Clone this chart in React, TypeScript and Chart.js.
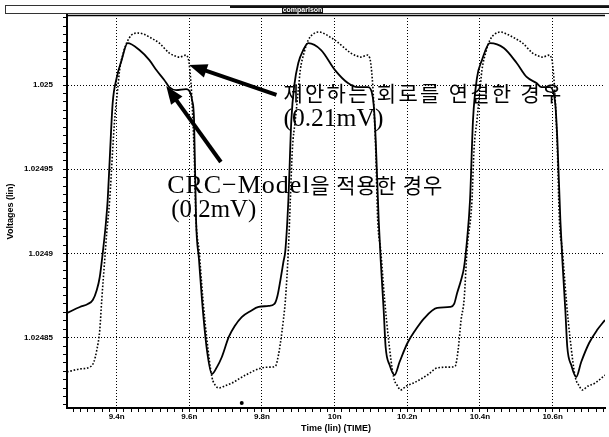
import React, { useEffect, useRef } from 'react';
import { Chart, registerables } from 'chart.js';

Chart.register(...registerables);

// ---------- axis ticks ----------
const xMajorTicks = [9.4, 9.6, 9.8, 10, 10.2, 10.4, 10.6];
const xTickLabels = ['9.4n', '9.6n', '9.8n', '10n', '10.2n', '10.4n', '10.6n'];
const yMajorTicks = [1.02485, 1.0249, 1.02495, 1.025];
const yTickLabels = ['1.02485', '1.0249', '1.02495', '1.025'];
const xRange = [9.2634, 10.7442];
const yRange = [1.0248082, 1.0250416];
const xMinorStep = 0.02;
const yMinorStep = 0.000005;

// ---------- series: CRC-Model (solid) ----------
const crcTime = [
  9.2634, 9.2989, 9.3208, 9.3344, 9.3454, 9.3536, 9.3617, 9.3699, 9.3754, 9.3809, 9.3891, 9.4, 9.4137, 9.4301,
  9.4628, 9.4902, 9.5093, 9.5311, 9.5448, 9.5639, 9.5913, 9.6022, 9.6077, 9.6131, 9.6186, 9.6268, 9.635, 9.6486, 9.6623,
  9.676, 9.6896, 9.7087, 9.7251, 9.7443, 9.7688, 9.7907, 9.818, 9.8344, 9.8426, 9.8508, 9.859, 9.8645, 9.8727,
  9.8809, 9.8891, 9.9, 9.9137, 9.9273, 9.9628, 10.0011, 10.0366, 10.0639, 10.0912, 10.1022, 10.1076, 10.1131, 10.1213,
  10.1268, 10.135, 10.1404, 10.1514, 10.165, 10.1787, 10.2005, 10.2224, 10.247, 10.2825, 10.318, 10.329, 10.3372,
  10.3481, 10.3563, 10.3645, 10.3727,
  10.3809, 10.3918, 10.4055, 10.4273, 10.4656, 10.5011, 10.5284, 10.5557, 10.5694, 10.5913, 10.6022, 10.6077, 10.6131,
  10.6213, 10.6268, 10.635, 10.6404, 10.6514, 10.665, 10.6787, 10.7005, 10.7224, 10.7442,
];
const crcVolt = [
  1.0248646, 1.0248682, 1.02487, 1.0248723, 1.0248783, 1.024886, 1.0249002, 1.0249169, 1.0249317, 1.0249555, 1.0249893,
  1.0250042, 1.0250148, 1.0250249,
  1.0250208, 1.0250148, 1.0250089, 1.025003, 1.0249988, 1.024997, 1.0249976, 1.0249958, 1.0249911, 1.0249792, 1.0249198,
  1.0248961, 1.0248723, 1.0248426, 1.0248284,
  1.0248325, 1.0248385, 1.0248504, 1.0248569, 1.0248622, 1.0248658, 1.0248682, 1.0248688, 1.02487, 1.0248747, 1.0248842,
  1.0248949, 1.024902, 1.0249317,
  1.0249792, 1.025, 1.0250131, 1.0250208, 1.0250249, 1.0250208, 1.0250089, 1.0250012, 1.0249988, 1.0249988, 1.0249958,
  1.0249881, 1.0249673, 1.0249198, 1.0248961, 1.0248664, 1.0248444, 1.0248337, 1.0248278, 1.0248355, 1.0248468,
  1.0248545, 1.0248616, 1.0248676, 1.0248682, 1.02487, 1.0248765, 1.0248842, 1.0248919, 1.024908, 1.0249317,
  1.0249792, 1.0250042, 1.0250148, 1.0250249, 1.025022, 1.0250131, 1.0250048, 1.0250012, 1.0249988, 1.0249988, 1.0249958,
  1.0249881, 1.0249673, 1.0249198, 1.0248961, 1.0248664, 1.0248444, 1.0248337, 1.0248266, 1.0248355, 1.0248468,
  1.0248545, 1.0248605,
];

// ---------- series: proposed circuit (dotted) ----------
const propTime = [
  9.2634, 9.2989, 9.3262, 9.3372, 9.3454, 9.3536, 9.359, 9.3672, 9.3727, 9.3809, 9.3891, 9.3945, 9.4027, 9.4082, 9.4191,
  9.4273, 9.441, 9.4574, 9.4738, 9.4902, 9.5175, 9.5448, 9.5612, 9.5721, 9.5913, 9.5967, 9.5995, 9.6049, 9.6077, 9.6131,
  9.6186, 9.6268, 9.6377, 9.6486, 9.6623, 9.6732, 9.6814, 9.6978, 9.7169, 9.7552, 9.7989, 9.8235, 9.8372, 9.8454, 9.8508,
  9.859, 9.8645, 9.8727, 9.8781,
  9.8836, 9.8918, 9.9, 9.9055, 9.9164, 9.9273, 9.941, 9.9574, 9.9738, 9.9874, 10.0011, 10.0448, 10.0612, 10.0721,
  10.0912, 10.0967, 10.0994, 10.1049, 10.1076, 10.1131, 10.1186, 10.1268, 10.1377, 10.1486, 10.1623, 10.1732, 10.1814,
  10.1978, 10.2169, 10.2552, 10.2825, 10.318, 10.3317, 10.3399, 10.3481, 10.3563, 10.3645, 10.3781,
  10.3836, 10.3918, 10.4, 10.4055, 10.4164, 10.4273, 10.441, 10.4574, 10.4738, 10.4902, 10.5175, 10.5448, 10.5612,
  10.5721, 10.5913, 10.5967, 10.5995, 10.6049, 10.6077, 10.6131, 10.6186, 10.6268, 10.6377, 10.6486, 10.6623, 10.6732,
  10.6814, 10.6978, 10.7169, 10.7442,
];
const propVolt = [
  1.0248296, 1.0248314, 1.0248325, 1.0248355, 1.0248426, 1.0248545, 1.0248723, 1.0248961, 1.0249121, 1.0249317,
  1.0249614, 1.0249792, 1.024997, 1.0250089, 1.0250196, 1.0250249, 1.0250297, 1.0250309, 1.0250303, 1.0250285,
  1.0250249, 1.025019, 1.0250172, 1.0250166, 1.0250178, 1.025016, 1.0250131, 1.025, 1.0249893, 1.0249614, 1.0249198,
  1.024902, 1.0248723, 1.0248486, 1.0248266, 1.0248213, 1.0248201, 1.0248213, 1.024823, 1.0248278, 1.024832, 1.0248325,
  1.0248331, 1.0248397, 1.0248468, 1.0248605, 1.0248723, 1.024902, 1.0249317,
  1.0249614, 1.0249792, 1.024997, 1.0250089, 1.0250196, 1.0250267, 1.0250303, 1.0250315, 1.0250303, 1.0250285,
  1.0250267, 1.025019, 1.0250172, 1.0250166, 1.0250178, 1.025016, 1.0250131, 1.025, 1.0249893, 1.0249614, 1.0249198,
  1.024902, 1.0248723, 1.0248486, 1.0248266, 1.0248213, 1.0248189, 1.0248213, 1.024823, 1.0248278, 1.024832, 1.0248325,
  1.0248331, 1.0248426, 1.0248605, 1.0248723, 1.024902, 1.0249317,
  1.0249614, 1.0249792, 1.024997, 1.0250089, 1.0250196, 1.0250267, 1.0250303, 1.0250315, 1.0250303, 1.0250285,
  1.0250249, 1.025019, 1.0250172, 1.0250166, 1.0250178, 1.025016, 1.0250131, 1.025, 1.0249893, 1.0249614, 1.0249198,
  1.024902, 1.0248723, 1.0248486, 1.0248266, 1.0248213, 1.0248189, 1.0248213, 1.024823, 1.0248278,
];

// small scan speck near the bottom
const speckTime = [9.7443];
const speckVolt = [1.0248112];

// ---------- annotations (data coordinates: left edge, text baseline) ----------
const annotationTexts = ['제안하는 회로를 연결한 경우', '(0.21mV)', 'CRC\u2212Model을 적용한 경우', '(0.2mV)'];
const annotationTime = [9.859, 9.859, 9.5393, 9.5503];
const annotationVolt = [1.0249905, 1.0249757, 1.0249359, 1.0249216];
const annotationWidthPx = [278, 100, 275, 85];

const arrowTailTime = [9.8399, 9.6869];
const arrowTailVolt = [1.0249941, 1.0249543];
const arrowTipTime = [9.5995, 9.5366];
const arrowTipVolt = [1.0250119, 1.0249994];

const tickFont = { family: "'Liberation Sans', Arial, sans-serif", size: 8, weight: 'bold' as const };
const titleFont = { family: "'Liberation Sans', Arial, sans-serif", size: 9, weight: 'bold' as const };
const latinNoteFont = "26px 'Liberation Serif', 'DejaVu Serif', serif";
const koreanNoteFont = "21px 'Noto Sans CJK KR', sans-serif";

function buildTicks(min: number, max: number, step: number) {
  const out: { value: number }[] = [];
  const start = Math.ceil(min / step - 1e-6);
  const end = Math.floor(max / step + 1e-6);
  for (let i = start; i <= end; i++) out.push({ value: +(i * step).toFixed(8) });
  return out;
}

function majorIndex(v: number, majors: number[], step: number) {
  return majors.findIndex((m) => Math.abs(m - v) < step * 0.05);
}

function drawArrow(ctx: CanvasRenderingContext2D, x1: number, y1: number, x2: number, y2: number) {
  const ang = Math.atan2(y2 - y1, x2 - x1);
  const headLen = 18;
  const headW = 7;
  const bx = x2 - headLen * Math.cos(ang);
  const by = y2 - headLen * Math.sin(ang);
  ctx.lineWidth = 4;
  ctx.lineCap = 'butt';
  ctx.beginPath();
  ctx.moveTo(x1, y1);
  ctx.lineTo(bx + 2 * Math.cos(ang), by + 2 * Math.sin(ang));
  ctx.stroke();
  ctx.beginPath();
  ctx.moveTo(x2, y2);
  ctx.lineTo(bx + headW * Math.sin(ang), by - headW * Math.cos(ang));
  ctx.lineTo(bx - headW * Math.sin(ang), by + headW * Math.cos(ang));
  ctx.closePath();
  ctx.fill();
}

function drawRuns(ctx: CanvasRenderingContext2D, text: string, left: number, baseline: number, width: number) {
  const c = ctx as any;
  const chars = Array.from(text);
  const runs: { font: string; text: string; w: number; n: number }[] = [];
  for (const ch of chars) {
    const kor = /[\u1100-\u11FF\u3130-\u318F\uAC00-\uD7A3 ]/.test(ch);
    const font = kor ? koreanNoteFont : latinNoteFont;
    const last = runs[runs.length - 1];
    if (last && last.font === font) last.text += ch;
    else runs.push({ font, text: ch, w: 0, n: 0 });
  }
  c.letterSpacing = '0px';
  let W = 0;
  for (const r of runs) {
    ctx.font = r.font;
    r.w = ctx.measureText(r.text).width;
    r.n = Array.from(r.text).length;
    W += r.w;
  }
  let ls = 0;
  let sx = 1;
  if (W < width && chars.length > 1) ls = (width - W) / (chars.length - 1);
  else sx = width / W;
  ctx.save();
  ctx.translate(left, baseline);
  ctx.scale(sx, 1);
  ctx.textBaseline = 'alphabetic';
  ctx.textAlign = 'left';
  let x = 0;
  for (const r of runs) {
    ctx.font = r.font;
    c.letterSpacing = ls + 'px';
    ctx.fillText(r.text, x, 0);
    x += r.w + r.n * ls;
  }
  c.letterSpacing = '0px';
  ctx.restore();
}

const overlayPlugin = {
  id: 'overlay',
  afterDatasetsDraw(chart: any) {
    const { ctx, chartArea, scales } = chart;
    const x = scales.x;
    const y = scales.y;
    ctx.save();
    // plot frame top
    ctx.strokeStyle = '#000';
    ctx.lineWidth = 1.5;
    ctx.beginPath();
    ctx.moveTo(chartArea.left, chartArea.top + 0.5);
    ctx.lineTo(chartArea.right, chartArea.top + 0.5);
    ctx.stroke();
    // arrows
    ctx.fillStyle = '#000';
    ctx.strokeStyle = '#000';
    for (let i = 0; i < arrowTailTime.length; i++) {
      drawArrow(
        ctx,
        x.getPixelForValue(arrowTailTime[i]),
        y.getPixelForValue(arrowTailVolt[i]),
        x.getPixelForValue(arrowTipTime[i]),
        y.getPixelForValue(arrowTipVolt[i])
      );
    }
    // texts
    for (let i = 0; i < annotationTexts.length; i++) {
      drawRuns(
        ctx,
        annotationTexts[i],
        x.getPixelForValue(annotationTime[i]),
        y.getPixelForValue(annotationVolt[i]),
        annotationWidthPx[i]
      );
    }
    ctx.restore();
  },
  afterDraw(chart: any) {
    const { ctx, width } = chart;
    ctx.save();
    // window title bar
    ctx.strokeStyle = '#333';
    ctx.lineWidth = 1;
    ctx.strokeRect(5.5, 5.5, width, 8);
    ctx.lineWidth = 2;
    ctx.strokeStyle = '#111';
    ctx.beginPath();
    ctx.moveTo(230, 7);
    ctx.lineTo(282, 7);
    ctx.moveTo(323, 7);
    ctx.lineTo(width, 7);
    ctx.stroke();
    ctx.fillStyle = '#111';
    ctx.fillRect(282, 6, 41, 8);
    ctx.fillStyle = '#fff';
    ctx.font = "bold 7px 'Liberation Sans', Arial, sans-serif";
    ctx.textAlign = 'center';
    ctx.textBaseline = 'middle';
    ctx.fillText('comparison', 302.5, 10.5);
    ctx.restore();
  },
};

export default function App() {
  const canvasRef = useRef<HTMLCanvasElement | null>(null);

  useEffect(() => {
    if (!canvasRef.current) return;
    const chart = new Chart(canvasRef.current, {
      type: 'line',
      data: {
        datasets: [
          {
            label: 'CRC-Model',
            data: crcTime.map((t, i) => ({ x: t, y: crcVolt[i] })),
            borderColor: '#000',
            borderWidth: 1.8,
            pointRadius: 0,
            cubicInterpolationMode: 'monotone',
            fill: false,
          },
          {
            label: 'proposed',
            data: propTime.map((t, i) => ({ x: t, y: propVolt[i] })),
            borderColor: '#000',
            borderWidth: 1.6,
            borderDash: [1.6, 1.8],
            pointRadius: 0,
            cubicInterpolationMode: 'monotone',
            fill: false,
          },
          {
            label: 'speck',
            data: speckTime.map((t, i) => ({ x: t, y: speckVolt[i] })),
            showLine: false,
            pointRadius: 2,
            pointBackgroundColor: '#000',
            pointBorderWidth: 0,
          },
        ],
      },
      options: {
        animation: false,
        responsive: false,
        devicePixelRatio: 1,
        events: [],
        layout: { padding: { top: 15, left: 0, right: 0, bottom: 0 } },
        plugins: { legend: { display: false }, tooltip: { enabled: false }, title: { display: false } },
        scales: {
          x: {
            type: 'linear',
            min: xRange[0],
            max: xRange[1],
            afterBuildTicks: (scale: any) => {
              scale.ticks = buildTicks(xRange[0], xRange[1], xMinorStep);
            },
            afterFit: (scale: any) => {
              scale.height = 29;
            },
            ticks: {
              autoSkip: false,
              maxRotation: 0,
              minRotation: 0,
              padding: 0,
              color: '#000',
              font: tickFont,
              callback: (v: any) => {
                const i = majorIndex(Number(v), xMajorTicks, xMinorStep);
                return i >= 0 ? xTickLabels[i] : '';
              },
            },
            grid: {
              color: (c: any) =>
                c.tick && majorIndex(c.tick.value, xMajorTicks, xMinorStep) >= 0 ? '#000' : 'rgba(0,0,0,0)',
              lineWidth: 1,
              tickColor: '#000',
              tickWidth: 1,
              tickLength: 4,
            },
            border: { display: true, color: '#000', width: 2, dash: [1, 2] },
            title: {
              display: true,
              text: 'Time (lin) (TIME)',
              color: '#000',
              font: titleFont,
              padding: { top: 0, bottom: 3 },
            },
          },
          y: {
            type: 'linear',
            min: yRange[0],
            max: yRange[1],
            afterBuildTicks: (scale: any) => {
              scale.ticks = buildTicks(yRange[0], yRange[1], yMinorStep);
            },
            afterFit: (scale: any) => {
              scale.width = 67;
            },
            ticks: {
              autoSkip: false,
              padding: 10,
              color: '#000',
              font: tickFont,
              callback: (v: any) => {
                const i = majorIndex(Number(v), yMajorTicks, yMinorStep);
                return i >= 0 ? yTickLabels[i] : '';
              },
            },
            grid: {
              color: (c: any) =>
                c.tick && majorIndex(c.tick.value, yMajorTicks, yMinorStep) >= 0 ? '#000' : 'rgba(0,0,0,0)',
              lineWidth: 1,
              tickColor: '#000',
              tickWidth: 1,
              tickLength: 4,
            },
            border: { display: true, color: '#000', width: 2, dash: [1, 2] },
            title: {
              display: true,
              text: 'Voltages (lin)',
              color: '#000',
              font: titleFont,
              padding: { top: 5, bottom: 0 },
            },
          },
        },
      },
      plugins: [overlayPlugin],
    } as any);
    return () => chart.destroy();
  }, []);

  return (
    <div style={{ position: 'fixed', left: 0, top: 0, width: 609, height: 437, background: '#fff' }}>
      <canvas ref={canvasRef} width={609} height={437} style={{ display: 'block' }} />
    </div>
  );
}
